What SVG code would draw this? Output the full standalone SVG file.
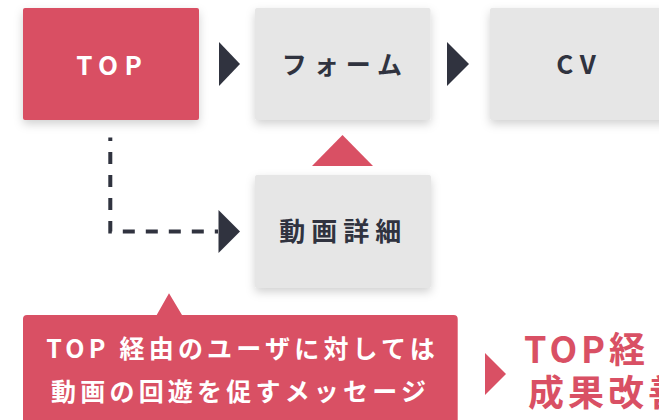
<svg xmlns="http://www.w3.org/2000/svg" width="659" height="420" viewBox="0 0 659 420">
  <defs>
    <filter id="sh" x="-20%" y="-20%" width="140%" height="150%">
      <feDropShadow dx="0" dy="4" stdDeviation="5" flood-color="#000" flood-opacity="0.18"/>
    </filter>
    <style>
      .red { fill: #d95064; }
      .gray { fill: #e6e6e6; }
      .dark { fill: #30333f; }
      text { font-family: "Noto Sans CJK JP", "Noto Sans", sans-serif; font-weight: 700; }
      .lbl { font-size: 25px; fill: #30333f; text-anchor: middle; }
      .lat { font-size: 26px; letter-spacing: 6.5px; }
      .wht { fill: #ffffff; }
      .call { font-size: 25px; fill: #ffffff; text-anchor: middle; letter-spacing: 4.2px; }
      .big { font-size: 36px; fill: #d95064; letter-spacing: 4px; }
    </style>
  </defs>

  <g id="connectors">
    <path d="M110.3 137.5 V231.5 H218" fill="none" stroke="#30333f" stroke-width="4" stroke-dasharray="12 11" stroke-dashoffset="8.5"/>
    <polygon class="dark" points="218.5,210 240,231.5 218.5,253"/>
    <polygon class="dark" points="219,42 240,64 219,86"/>
    <polygon class="dark" points="447,42 469,64 447,86"/>
    <polygon class="red" points="312,166 342.5,135 373,166"/>
    <polygon class="red" points="485,353 506,374 485,395"/>
  </g>

  <g id="node-top">
    <rect class="red" x="23" y="8" width="176" height="112" rx="2" filter="url(#sh)"/>
    <text class="lbl lat wht" x="112.3" y="74.5">TOP</text>
  </g>

  <g id="node-form">
    <rect class="gray" x="255" y="8" width="175.5" height="112" rx="2" filter="url(#sh)"/>
    <text class="lbl" x="345.5" y="73.5" style="letter-spacing:7px">フォーム</text>
  </g>

  <g id="node-cv">
    <rect class="gray" x="490" y="8" width="180" height="112" rx="2" filter="url(#sh)"/>
    <text class="lbl lat" x="579.3" y="74.3">CV</text>
  </g>

  <g id="node-video">
    <rect class="gray" x="255" y="175" width="176" height="113" rx="2" filter="url(#sh)"/>
    <text class="lbl" x="343.3" y="240.5" style="font-size:26px;letter-spacing:6px">動画詳細</text>
  </g>

  <g id="callout">
    <path class="red" d="M27 315 H156.7 L169 293.3 L182 315 H453.7 Q457.7 315 457.7 319 V430 H23 V319 Q23 315 27 315 Z"/>
    <text class="call" x="242.6" y="357.5">TOP 経由のユーザに対しては</text>
    <text class="call" x="240.6" y="401">動画の回遊を促すメッセージ</text>
  </g>

  <g id="result">
    <text class="big" x="524" y="363">TOP経</text>
    <text class="big" x="528" y="405.5">成果改善</text>
  </g>
</svg>
